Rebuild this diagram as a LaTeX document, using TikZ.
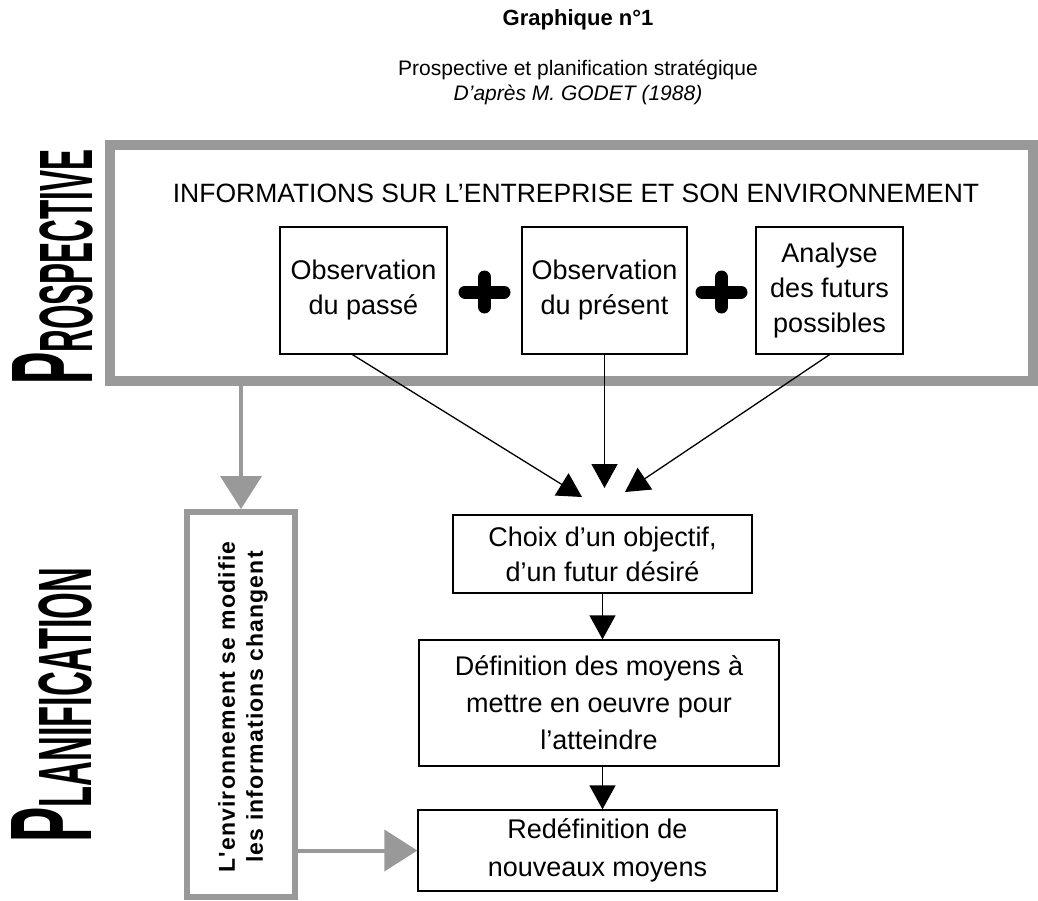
\documentclass[tikz,border=0pt]{standalone}
\usepackage{graphicx}
\usepackage{fontspec}
\setmainfont{Liberation Sans}
\newfontfamily\spacedfont[LetterSpace=5]{Liberation Sans}
\usetikzlibrary{arrows.meta,calc}
\begin{document}
\begin{tikzpicture}[x=1pt,y=1pt,
  box/.style={draw=black, line width=1.3pt, align=center, inner sep=0pt, font=\fontsize{27}{35}\selectfont},
  hatchframe/.style={draw=black!40, inner sep=0pt},
  blackarrow/.style={line width=1.3pt, -{Triangle[length=24pt,width=26pt]}},
  hatcharrow/.style={line width=4pt, draw=black!40, fill=black!40, -{Triangle[length=33pt,width=41pt]}},
  plussign/.style={line width=13pt, line cap=round},
  bigword/.style={rotate=90, anchor=south west, inner sep=0pt}]
\useasboundingbox (0,0) rectangle (1038,-901);
% titles
\node[font=\bfseries\fontsize{22}{26}\selectfont] (title) at (578,-20) {Graphique n°1};
\node[font=\fontsize{21}{25}\selectfont] (sub) at (578,-70) {Prospective et planification stratégique};
\node[font=\itshape\fontsize{21}{25}\selectfont] (src) at (578,-95) {D'après M. GODET (1988)};
% side words
\node[bigword] (prosp) at (93,-385) {\resizebox{235pt}{80pt}{\bfseries\fontsize{40}{40}\selectfont P\fontsize{26}{26}\selectfont ROSPECTIVE}};
\node[bigword] (planif) at (92,-843) {\resizebox{275pt}{80pt}{\bfseries\fontsize{40}{40}\selectfont P\fontsize{26}{26}\selectfont LANIFICATION}};
% big frame
\node[hatchframe, line width=10pt, minimum width=923pt, minimum height=236pt] (frame) at (571.5,-263) {};
\node[font=\fontsize{26.5}{30}\selectfont] (infotitle) at (576,-193) {INFORMATIONS SUR L'ENTREPRISE ET SON ENVIRONNEMENT};
\node[box, minimum width=167pt, minimum height=127pt] (b1) at (363.5,-290.5) {Observation\\du passé};
\node[box, minimum width=165pt, minimum height=127pt] (b2) at (604.5,-290.5) {Observation\\du présent};
\node[box, minimum width=147pt, minimum height=127pt] (b3) at (829.5,-290.5) {Analyse\\des futurs\\possibles};
\draw[plussign] (465,-292) -- (504,-292) (484.5,-277) -- (484.5,-307);
\draw[plussign] (702,-292) -- (741,-292) (721.5,-277) -- (721.5,-307);
% convergence
\coordinate (t1) at (582,-497);
\coordinate (t2) at (604.5,-488);
\coordinate (t3) at (625,-492);
\draw[blackarrow] ($(b1.south)+(-11,0)$) -- (t1);
\draw[blackarrow] (b2.south) -- (t2);
\draw[blackarrow] (b3.south) -- (t3);
% lower chain
\node[box, minimum width=299pt, minimum height=78pt] (choix) at (602.5,-554) {Choix d'un objectif,\\d'un futur désiré};
\node[box, minimum width=360pt, minimum height=126pt, font=\fontsize{27}{37}\selectfont] (def) at (599,-703) {Définition des moyens à\\mettre en oeuvre pour\\l'atteindre};
\node[box, minimum width=359pt, minimum height=81pt, font=\fontsize{27}{38}\selectfont] (redef) at (597.5,-850.5) {Redéfinition de\\nouveaux moyens};
\draw[blackarrow] (choix.south) -- (choix.south |- def.north);
\draw[blackarrow] (def.south -| choix.south) -- (choix.south |- redef.north);
% environment box
\node[hatchframe, line width=6pt, minimum width=108pt, minimum height=385pt] (env) at (241,-704.5) {};
\node[rotate=90, align=center, font=\spacedfont\bfseries\fontsize{23}{28}\selectfont] (envtext) at (243,-707) {L'environnement se modifie\\les informations changent};
\draw[hatcharrow] (frame.south -| env.north) -- (env.north);
\draw[hatcharrow] (env.east |- redef.west) -- (redef.west);
\end{tikzpicture}
\end{document}
